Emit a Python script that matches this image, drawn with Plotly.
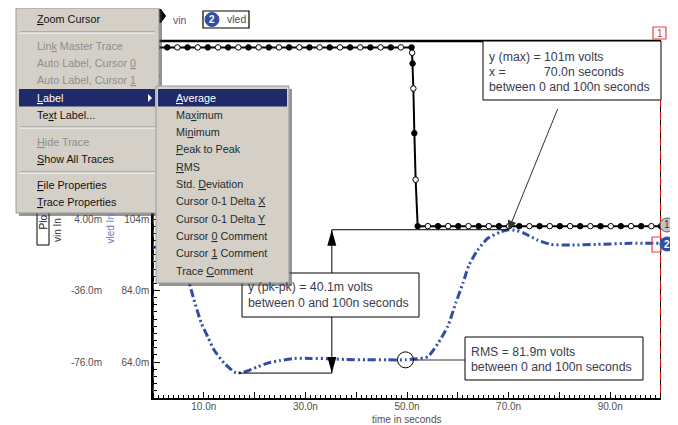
import plotly.graph_objects as go

# ---------------- data ----------------
vled_t = [0, 2, 4, 6, 7.1, 8.1, 9.5, 10.8, 12.0, 14.0, 16.0, 16.8, 18.8, 20.5, 22.6,
          25, 27.8, 31, 35, 38, 42, 46, 49.7, 52, 54.1, 56.1, 58.0, 59.6, 61.0, 62.2,
          63.9, 65.9, 68.5, 70.0, 71.5, 73.1, 75.7, 78.3, 82.2, 87.5, 94.1, 100]
vled_mv = [96.0, 96.3, 94.5, 90.0, 86.1, 81.3, 74.9, 71.0, 67.4, 63.7, 61.2, 60.9, 61.6, 62.6, 63.7,
           64.4, 65.0, 65.0, 64.9, 64.7, 64.6, 64.6, 64.6, 64.9, 65.5, 69.2, 73.9, 80.5, 86.0, 91.1,
           95.3, 98.6, 100.4, 101.0, 100.8, 100.0, 98.1, 96.9, 96.7, 96.9, 97.2, 97.2]

vin_t = [0, 0.8, 2.8, 4.8, 6.8, 8.8, 10.8, 12.8, 14.8, 16.8, 18.8, 20.8, 22.8, 24.8, 26.8,
         28.8, 30.8, 32.8, 34.8, 36.8, 38.8, 40.8, 42.8, 44.8, 46.8, 48.8, 50.9,
         51.0, 51.1, 51.25, 51.45, 51.7,
         52.1, 54.1, 56.1, 58.1, 60.1, 62.1, 64.1, 66.1, 68.1, 70.1, 72.1, 74.1, 76.1,
         78.1, 80.1, 82.1, 84.1, 86.1, 88.1, 90.1, 92.1, 94.1, 96.1, 98.1, 100]
vin_mv = [100, 100, 100, 100, 100, 100, 100, 100, 100, 100, 100, 100, 100, 100, 100,
          100, 100, 100, 100, 100, 100, 100, 100, 100, 100, 100, 100,
          97, 91, 77, 52, 26,
          0, 0, 0, 0, 0, 0, 0, 0, 0, 0, 0, 0, 0,
          0, 0, 0, 0, 0, 0, 0, 0, 0, 0, 0, 0]

x_tickvals = [10, 20, 30, 40, 50, 60, 70, 80, 90]
x_ticktext = ['10.0n', '', '30.0n', '', '50.0n', '', '70.0n', '', '90.0n']
vled_tickvals = [64, 84, 104, 124, 144]
vled_ticktext = ['64.0m', '84.0m', '104m', '', '']      # upper labels are hidden by the menu
vin_tickvals = [-76, -36, 4]
vin_ticktext = ['-76.0m', '-36.0m', '4.00m']

# measurement labels
y_max, t_max = 101.0, 70.0
y_min, t_min = 60.9, 16.8
rms_t, rms_y = 49.7, 64.6
pkpk_t = 35.2

# ---------------- geometry helpers (page pixel coordinates) ----------------
OFF = 8                     # page body margin
PL, PR, PT, PB = 153, 661, 41, 398   # plot area in page pixels
W, H = 670, 417
ML = 0
MR = W - (PR - OFF)
MT = PT - OFF
MB = H - (PB - OFF)
PW = W - ML - MR
PH = H - MT - MB


def px(x):
    return (x - OFF - ML) / PW


def py(y):
    return (H - MB - (y - OFF)) / PH


VB, VT = 53.93, 153.79          # vled axis range (mV)
V2B, V2T = 2 * VB - 204, 2 * VT - 204   # vin axis range aligned with vled axis

BLUE = '#2f4ea6'
TXT = '#3c3c4e'
MENU_BG = '#d4d0c8'
HILITE = '#1f2a68'
FONT = 'Liberation Sans'

fig = go.Figure()

fig.add_trace(go.Scatter(
    x=vled_t, y=vled_mv, mode='lines', yaxis='y',
    line=dict(color=BLUE, width=3, dash='8px,3px,2px,3px,2px,3px', shape='spline', smoothing=0.6),
    showlegend=False, hoverinfo='skip'))

mk_fill = ['black' if i % 2 == 0 else 'white' for i in range(len(vin_t))]
fig.add_trace(go.Scatter(
    x=vin_t, y=vin_mv, mode='lines+markers', yaxis='y2',
    line=dict(color='black', width=2),
    marker=dict(symbol='circle', size=5.5, color=mk_fill, line=dict(color='black', width=1)),
    showlegend=False, hoverinfo='skip'))

shapes = []
ann = []


def prect(x0, y0, x1, y1, fill, line=None, lw=1):
    shapes.append(dict(type='rect', xref='paper', yref='paper', layer='above',
                       x0=px(x0), x1=px(x1), y0=py(y1), y1=py(y0), fillcolor=fill,
                       line=dict(color=line if line else fill, width=lw if line else 0)))


def pline(x0, y0, x1, y1, color='black', lw=1, dash='solid'):
    shapes.append(dict(type='line', xref='paper', yref='paper', layer='above',
                       x0=px(x0), x1=px(x1), y0=py(y0), y1=py(y1),
                       line=dict(color=color, width=lw, dash=dash)))


def pcircle(cx, cy, r, fill, line, lw=1):
    shapes.append(dict(type='circle', xref='paper', yref='paper', layer='above',
                       x0=px(cx - r), x1=px(cx + r), y0=py(cy + r), y1=py(cy - r),
                       fillcolor=fill, line=dict(color=line, width=lw)))


def ppath(pts, fill, line=None):
    d = 'M ' + ' L '.join('%f,%f' % (px(a), py(b)) for a, b in pts) + ' Z'
    shapes.append(dict(type='path', xref='paper', yref='paper', layer='above', path=d,
                       fillcolor=fill, line=dict(color=line if line else fill, width=1 if line else 0)))


def txt(x, y, s, size=10.8, color='#111', anchor='left', yanchor='middle', angle=0, family=FONT):
    ann.append(dict(xref='paper', yref='paper', x=px(x), y=py(y), text=s, showarrow=False,
                    xanchor=anchor, yanchor=yanchor, textangle=angle, borderpad=0,
                    font=dict(size=size, color=color, family=family)))


# ---- cursors (red with black dashes) at 0 and 100n
for xc in (0, 100):
    shapes.append(dict(type='line', xref='x', yref='paper', x0=xc, x1=xc, y0=0, y1=1,
                       layer='above', line=dict(color='#e01010', width=2)))
    shapes.append(dict(type='line', xref='x', yref='paper', x0=xc, x1=xc, y0=0, y1=1,
                       layer='above', line=dict(color='black', width=2, dash='5px,8px')))
# top border
pline(PL, PT, PR, PT, 'black', 2.5)

# ---- pk-pk dimension
for a, b, c, d in [(pkpk_t, y_max, t_max, y_max), (t_min, y_min, pkpk_t, y_min), (pkpk_t, y_min, pkpk_t, y_max)]:
    shapes.append(dict(type='line', xref='x', yref='y', x0=a, x1=c, y0=b, y1=d, layer='above',
                       line=dict(color='black', width=1)))
shapes.append(dict(type='path', xref='x', yref='y', xsizemode='pixel', ysizemode='pixel',
                   xanchor=pkpk_t, yanchor=y_max, path='M 0,0 L -4.5,-16 L 4.5,-16 Z',
                   fillcolor='black', line=dict(color='black', width=0), layer='above'))
shapes.append(dict(type='path', xref='x', yref='y', xsizemode='pixel', ysizemode='pixel',
                   xanchor=pkpk_t, yanchor=y_min, path='M 0,0 L -4.5,16 L 4.5,16 Z',
                   fillcolor='black', line=dict(color='black', width=0), layer='above'))
prect(242, 273, 419, 317, 'white', 'black', 1)
txt(247, 287, 'y (pk-pk) = 40.1m volts', 12.3, TXT)
txt(247, 303, 'between 0 and 100n seconds', 12.3, TXT)

# ---- max label
prect(483, 41, 661, 100, 'white', 'black', 1)
txt(488, 57, 'y (max) =', 12.3, TXT)
txt(543, 57, '101m volts', 12.3, TXT)
txt(488, 72, 'x =', 12.3, TXT)
txt(543, 72, '70.0n seconds', 12.3, TXT)
txt(488, 87, 'between 0 and 100n seconds', 12.3, TXT)
ann.append(dict(x=t_max, y=y_max, xref='x', yref='y', ax=52, ay=-128, axref='pixel', ayref='pixel',
                text=' ', showarrow=True, arrowhead=2, arrowsize=1.8, arrowwidth=1,
                arrowcolor='#333', standoff=0))

# ---- RMS label
shapes.append(dict(type='circle', xref='x', yref='y', xsizemode='pixel', ysizemode='pixel',
                   xanchor=rms_t, yanchor=rms_y, x0=-8, x1=8, y0=-8, y1=8, layer='above',
                   line=dict(color='black', width=1)))
pline(413, 360, 465, 360, '#333', 1)
prect(465, 337, 643, 380, 'white', 'black', 1)
txt(470, 352, 'RMS = 81.9m volts', 12.3, TXT)
txt(470, 367, 'between 0 and 100n seconds', 12.3, TXT)

# ---- right-hand markers
prect(653, 27, 666, 39, 'white', '#f04040', 1.2)
txt(659.5, 33, '1', 10, '#e03030', anchor='center')
prect(652, 237, 661, 252, 'rgba(0,0,0,0)', '#f04040', 1.2)
pcircle(667, 225, 7, '#c4c4c4', '#606060', 1)
txt(667, 225, '1', 10, '#333', anchor='center')
pcircle(667, 244, 7, BLUE, BLUE, 1)
txt(667, 244, '<b>2</b>', 10, 'white', anchor='center')

# ---- legend strip
ppath([(154, 9), (161, 9), (166, 16), (161, 23), (154, 23)], 'black')
txt(172, 20, 'vin', 10.5, '#7a3f8c')
prect(203, 11, 249, 28, 'white', 'black', 1.2)
pcircle(212, 19.5, 7, BLUE, BLUE, 1)
txt(212, 19.5, '<b>2</b>', 10, 'white', anchor='center')
txt(226, 19.5, 'vled', 10.5, '#4a4a5a')

# ---- left axis captions (partly hidden by the menu)
prect(37, 196, 49, 245, 'white', 'black', 1)
txt(43, 231, 'Plo', 10, '#222', anchor='center', yanchor='bottom', angle=-90)
txt(57, 243, 'vin In', 10, '#333', anchor='center', yanchor='bottom', angle=-90)
txt(110, 245, 'vled In', 10, '#6a7cc4', anchor='center', yanchor='bottom', angle=-90)

# ---- context menu
prect(19, 11, 162, 216, 'rgba(60,60,60,0.55)')
prect(16, 8, 159, 213, MENU_BG, '#9a9a9a', 1)
for ys in (32, 127, 172):
    pline(20, ys, 155, ys, '#8a8a8a', 1)
    pline(20, ys + 1, 155, ys + 1, 'white', 1)
prect(19, 89, 155, 106.5, HILITE)
ppath([(148, 94), (148, 102), (152, 98)], 'white')

menu_items = [
    (19, '<u>Z</u>oom Cursor', '#111'),
    (46, 'Lin<u>k</u> Master Trace', '#8d8d8d'),
    (63, 'Auto Label, Cursor <u>0</u>', '#8d8d8d'),
    (80, 'Auto Label, Cursor <u>1</u>', '#8d8d8d'),
    (98, '<u>L</u>abel', 'white'),
    (115, 'Te<u>x</u>t Label...', '#111'),
    (142, '<u>H</u>ide Trace', '#8d8d8d'),
    (159, '<u>S</u>how All Traces', '#111'),
    (185, '<u>F</u>ile Properties', '#111'),
    (202, '<u>T</u>race Properties', '#111'),
]

prect(159, 89, 292, 286, 'rgba(60,60,60,0.55)')
prect(156, 86, 289, 283, MENU_BG, '#9a9a9a', 1)
prect(158, 89, 287, 106.5, HILITE)
sub_items = [
    (98, '<u>A</u>verage', 'white'),
    (115, 'Ma<u>x</u>imum', '#1c2b2b'),
    (132, 'Mi<u>n</u>imum', '#1c2b2b'),
    (149, '<u>P</u>eak to Peak', '#1c2b2b'),
    (167, '<u>R</u>MS', '#1c2b2b'),
    (184, 'Std. <u>D</u>eviation', '#1c2b2b'),
    (201, 'Cursor 0-1 Delta <u>X</u>', '#1c2b2b'),
    (219, 'Cursor 0-1 Delta <u>Y</u>', '#1c2b2b'),
    (236, 'Cursor <u>0</u> Comment', '#1c2b2b'),
    (253, 'Cursor <u>1</u> Comment', '#1c2b2b'),
    (271, 'Trace <u>C</u>omment', '#1c2b2b'),
]
for yy, s, c in menu_items:
    txt(36, yy, s, 10.8, c)
for yy, s, c in sub_items:
    txt(175, yy, s, 10.8, c)

# x axis caption
txt(406, 419, 'time in seconds', 10, '#505050', anchor='center')

fig.update_layout(
    width=W, height=H,
    margin=dict(l=ML, r=MR, t=MT, b=MB, pad=0, autoexpand=False),
    paper_bgcolor='white', plot_bgcolor='white',
    showlegend=False,
    font=dict(family=FONT, size=10, color='#505050'),
    xaxis=dict(domain=[(PL - OFF - ML) / PW, 1], range=[0, 100], tickvals=x_tickvals, ticktext=x_ticktext,
               ticks='inside', ticklen=6, tickcolor='black', tickwidth=1, ticklabelstandoff=-2,
               minor=dict(dtick=1, ticks='inside', ticklen=3, tickcolor='black'),
               showline=True, linecolor='black', linewidth=1.5, showgrid=False, zeroline=False,
               tickfont=dict(size=10, color='#505050', family=FONT), fixedrange=True),
    yaxis=dict(domain=[0, 1], range=[VB, VT], tickvals=vled_tickvals, ticktext=vled_ticktext,
               ticks='inside', ticklen=7, tickcolor='black', tickwidth=1,
               minor=dict(dtick=2, ticks='inside', ticklen=4, tickcolor='black'),
               showline=True, linecolor='black', linewidth=1.5, showgrid=False, zeroline=False,
               tickfont=dict(size=10, color='#505050', family=FONT), fixedrange=True),
    yaxis2=dict(overlaying='y', anchor='free', side='left', position=(102 - OFF - ML) / PW,
                range=[V2B, V2T], tickvals=vin_tickvals, ticktext=vin_ticktext,
                ticks='', showline=False, showgrid=False, zeroline=False,
                tickfont=dict(size=10, color='#505050', family=FONT), fixedrange=True),
    shapes=shapes,
    annotations=ann,
)

fig.write_html('out.html')
